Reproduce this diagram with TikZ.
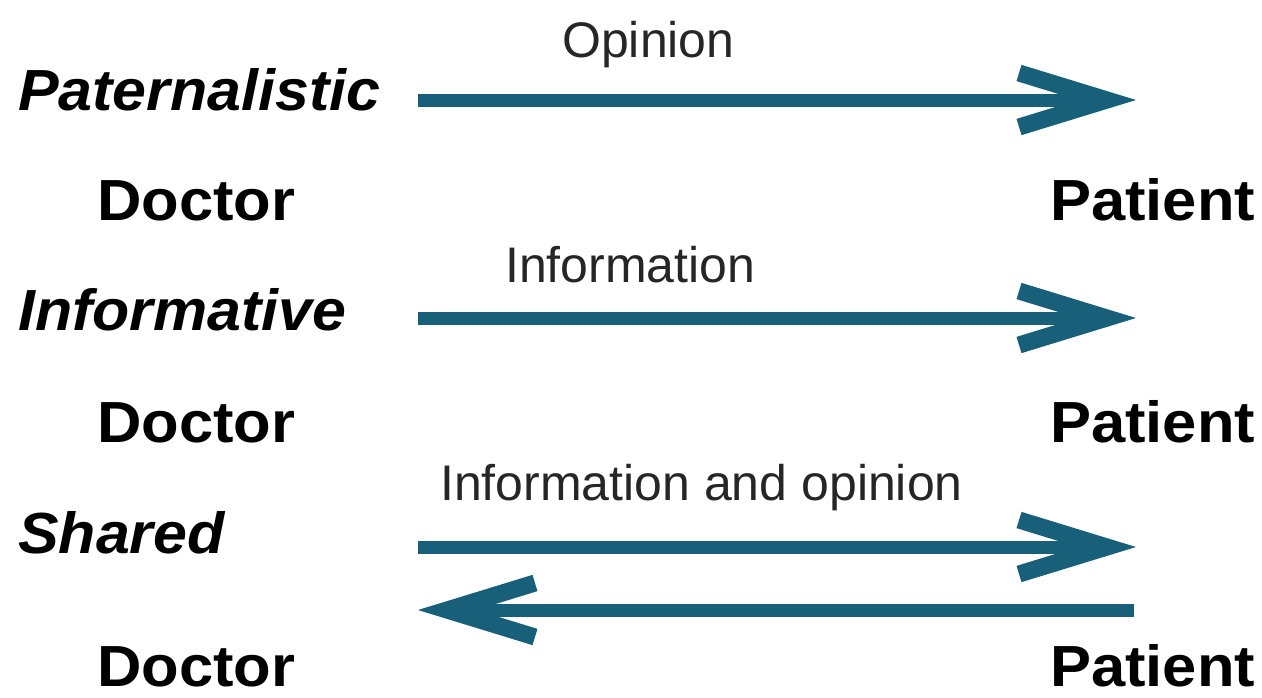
\documentclass[tikz,border=0pt]{standalone}
\usepackage{fontspec}
\setmainfont{Liberation Sans}
\usetikzlibrary{arrows.meta}
\definecolor{arrowteal}{RGB}{24,96,122}
\tikzset{
  big/.style={inner sep=0pt, anchor=base west, font=\fontsize{58}{58}\selectfont\bfseries, xscale=1.06},
  model/.style={inner sep=0pt, anchor=base west, font=\fontsize{58}{58}\selectfont\bfseries\itshape, xscale=1.05},
  small/.style={inner sep=0pt, anchor=base west, font=\fontsize{50}{50}\selectfont, text=black!85},
  flow/.style={draw=arrowteal, line width=13pt, line join=miter,
    -{Straight Barb[length=88pt, width=54pt, line width=17pt]}}
}
\begin{document}
\begin{tikzpicture}[x=1pt,y=-1pt]
\useasboundingbox[fill=white] (0,0) rectangle (1262,697);
% labels
\node[small] (op) at (562,57) {Opinion};
\node[model] (pat) at (18,110) {Paternalistic};
\node[big] (d1) at (97,220) {Doctor};
\node[big] (p1) at (1050,220) {Patient};
\node[small] (inf) at (505,282) {Information};
\node[model] (infm) at (18,330) {Informative};
\node[big] (d2) at (97,442) {Doctor};
\node[big] (p2) at (1050,442) {Patient};
\node[small] (io) at (440,500) {Information and opinion};
\node[model] (sh) at (18,553) {Shared};
\node[big] (d3) at (97,686) {Doctor};
\node[big] (p3) at (1050,686) {Patient};
% arrow end points
\coordinate (a1s) at (418,100);
\coordinate (a1e) at (1136,100);
\coordinate (a2s) at (418,318);
\coordinate (a2e) at (1136,318);
\coordinate (a3s) at (418,547);
\coordinate (a3e) at (1136,547);
\coordinate (a4s) at (1134,610);
\coordinate (a4e) at (418,610);
\draw[flow] (a1s) -- (a1e);
\draw[flow] (a2s) -- (a2e);
\draw[flow] (a3s) -- (a3e);
\draw[flow] (a4s) -- (a4e);
\end{tikzpicture}
\end{document}
